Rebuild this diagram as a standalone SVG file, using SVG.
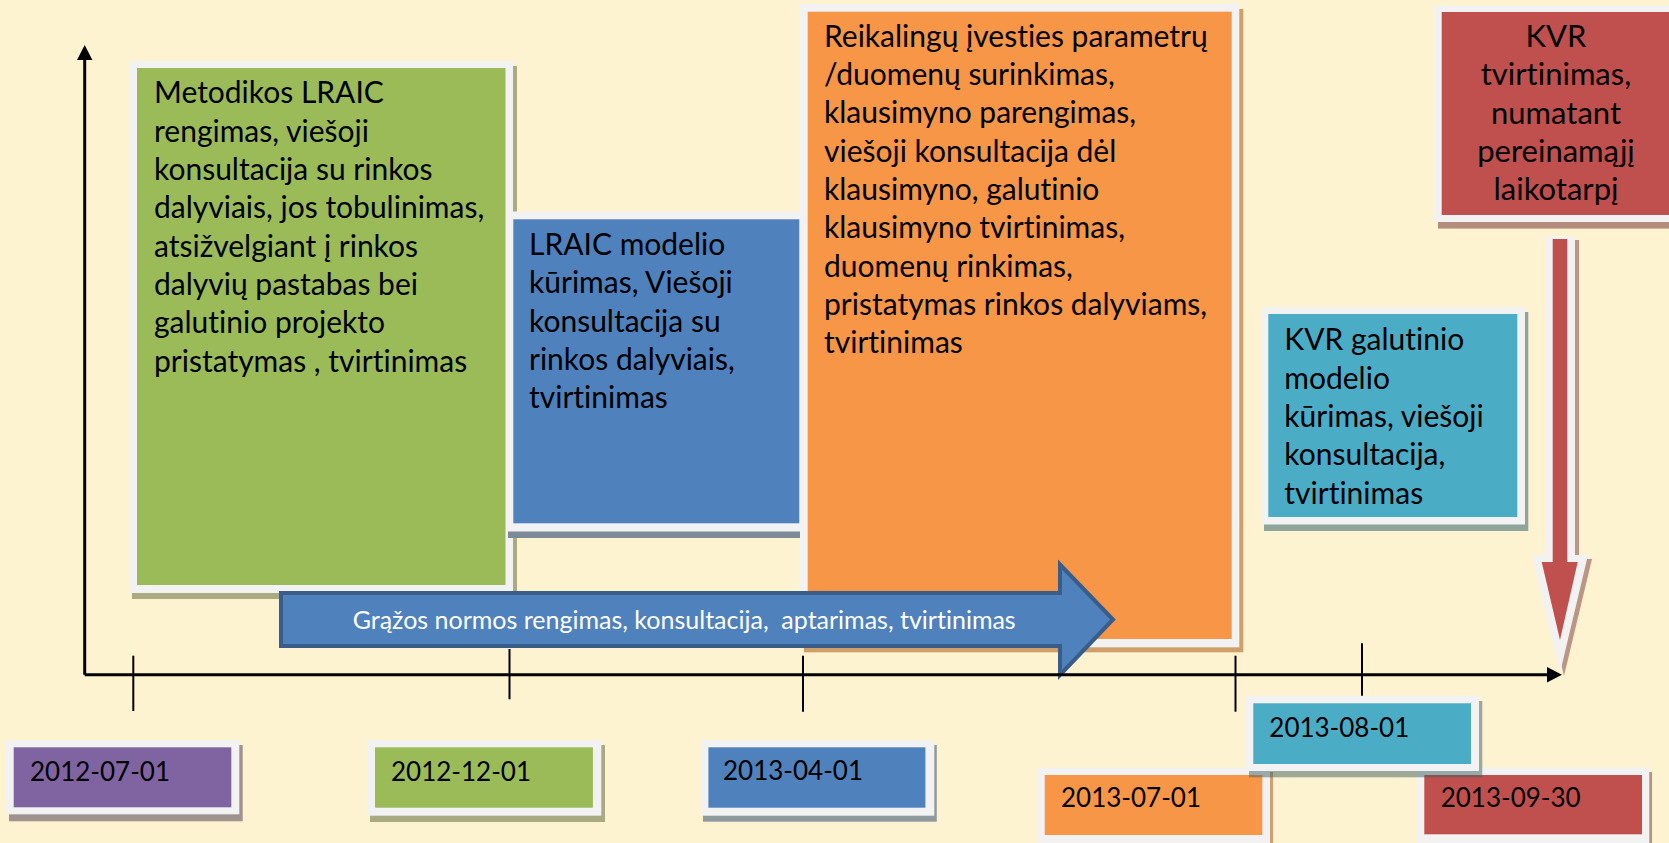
<svg xmlns="http://www.w3.org/2000/svg" width="1669" height="843" viewBox="0 0 1669 843">
<style>
text{font-variant-ligatures:none;font-feature-settings:"liga" 0}
.frame{fill:#f2f2f2}
.t{font-family:Lato,"Liberation Sans",sans-serif;font-size:30px;fill:#000}
.d{font-family:Lato,"Liberation Sans",sans-serif;font-size:26px;fill:#000}
.ax{stroke:#000;stroke-width:3;fill:none}
.tick{stroke:#000;stroke-width:2;fill:none}
</style>
<rect x="0" y="0" width="1669" height="843" fill="#fef3d1"/>

<g id="box-metodikos">
<rect x="132" y="66" width="385" height="533" fill="#aaab80"/>
<rect class="frame" x="129" y="61" width="384" height="532"/>
<rect x="137" y="68" width="368.5" height="517" fill="#9bbb59"/>
<text class="t" x="154"><tspan x="154" y="103">Metodikos LRAIC</tspan><tspan x="154" y="141.5">rengimas, viešoji</tspan><tspan x="154" y="180">konsultacija su rinkos</tspan><tspan x="154" y="218">dalyviais, jos tobulinimas,</tspan><tspan x="154" y="256.5">atsižvelgiant į rinkos</tspan><tspan x="154" y="295">dalyvių pastabas bei</tspan><tspan x="154" y="333">galutinio projekto</tspan><tspan x="154" y="371.5">pristatymas , tvirtinimas</tspan></text>
</g>

<g id="box-lraic">
<rect x="508" y="216" width="300" height="322" fill="#7d8a98"/>
<rect class="frame" x="507" y="211.5" width="298" height="320"/>
<rect x="513.3" y="219.3" width="286" height="304" fill="#4f81bd"/>
<text class="t"><tspan x="529" y="255">LRAIC modelio</tspan><tspan x="529" y="293.3">kūrimas, Viešoji</tspan><tspan x="529" y="331.6">konsultacija su</tspan><tspan x="529" y="370">rinkos dalyviais,</tspan><tspan x="529" y="408.2">tvirtinimas</tspan></text>
</g>

<g id="box-reikalingu">
<rect x="804" y="9" width="439.3" height="643.3" fill="#cf9f6a"/>
<rect class="frame" x="800" y="4" width="439.3" height="643.3"/>
<rect x="807.7" y="11.7" width="424" height="627.3" fill="#f79646"/>
<text class="t"><tspan x="824" y="46.7">Reikalingų įvesties parametrų</tspan><tspan x="824" y="85">/duomenų surinkimas,</tspan><tspan x="824" y="123.3">klausimyno parengimas,</tspan><tspan x="824" y="161.6">viešoji konsultacija dėl</tspan><tspan x="824" y="200">klausimyno, galutinio</tspan><tspan x="824" y="238.3">klausimyno tvirtinimas,</tspan><tspan x="824" y="276.6">duomenų rinkimas,</tspan><tspan x="824" y="315">pristatymas rinkos dalyviams,</tspan><tspan x="824" y="353.3">tvirtinimas</tspan></text>
</g>

<g id="box-kvr-galutinio">
<rect x="1264" y="312" width="264.3" height="219" fill="#8fa59c"/>
<rect class="frame" x="1261" y="307" width="264" height="217.5"/>
<rect x="1268.3" y="314" width="249" height="203" fill="#4bacc6"/>
<text class="t"><tspan x="1284.3" y="350.4">KVR galutinio</tspan><tspan x="1284.3" y="388.7">modelio</tspan><tspan x="1284.3" y="427">kūrimas, viešoji</tspan><tspan x="1284.3" y="465.3">konsultacija,</tspan><tspan x="1284.3" y="503.6">tvirtinimas</tspan></text>
</g>

<g id="box-kvr-tvirtinimas">
<rect x="1438" y="11" width="260" height="217.6" fill="#b48c7c"/>
<rect class="frame" x="1434.3" y="5.4" width="260" height="216.6"/>
<rect x="1441.7" y="12" width="250" height="203" fill="#c0504d"/>
<text class="t" text-anchor="middle" style="font-size:31px"><tspan x="1556" y="47">KVR</tspan><tspan x="1556" y="85.3">tvirtinimas,</tspan><tspan x="1556" y="123.6">numatant</tspan><tspan x="1556" y="161.9">pereinamąjį</tspan><tspan x="1556" y="200.2">laikotarpį</tspan></text>
</g>

<g id="red-arrow">
<polygon points="1549,240 1579,240 1579,559 1592,559 1564,676 1536,559 1549,559" fill="#b48c7c" opacity="0.9"/>
<polygon points="1545,236.6 1575,236.6 1575,555 1588,555 1560,673 1532,555 1545,555" fill="#f2f2f2"/>
<polygon points="1552.7,239 1567.3,239 1567.3,562 1577.7,562 1560,640 1541.7,562 1552.7,562" fill="#c0504d"/>
</g>

<g id="connectors">
<line class="tick" x1="133.3" y1="655.7" x2="133.3" y2="711"/>
<line class="tick" x1="509.5" y1="649" x2="509.5" y2="699.3"/>
<line class="tick" x1="803" y1="655.7" x2="803" y2="711.7"/>
<line class="tick" x1="1235.5" y1="655.7" x2="1235.5" y2="711.7"/>
<line class="tick" x1="1362" y1="643.3" x2="1362" y2="699.3"/>
</g>

<g id="arrow-grazos">
<path d="M281,593 H1060 V564.5 L1113,619.5 L1060,675 V646 H281 Z" fill="#4f81bd" stroke="#385d8a" stroke-width="4"/>
<text x="352.7" y="629" style="white-space:pre" font-family="Lato,'Liberation Sans',sans-serif" font-size="25" fill="#ffffff">Grąžos normos rengimas, konsultacija,  aptarimas, tvirtinimas</text>
</g>

<g id="axes">
<path class="ax" d="M84.7,674.7 V58"/>
<path d="M77,60 L84.7,45 L92.4,60 Z" fill="#000"/>
<path class="ax" d="M84.7,674.7 H1549"/>
<path d="M1547,667 L1562,674.7 L1547,682.5 Z" fill="#000"/>
</g>

<g id="date-2012-07-01">
<rect x="9" y="745" width="233.7" height="76.3" fill="#a0938f"/>
<rect class="frame" x="6" y="740" width="233.3" height="74.3"/>
<rect x="13.7" y="747.3" width="217.6" height="60" fill="#8064a2"/>
<text class="d" x="30" y="781">2012-07-01</text>
</g>
<g id="date-2012-12-01">
<rect x="370" y="745" width="235" height="77" fill="#a8aa82"/>
<rect class="frame" x="367.4" y="740" width="233.9" height="75.7"/>
<rect x="375" y="747.3" width="217.9" height="60.4" fill="#9bbb59"/>
<text class="d" x="391" y="780.7">2012-12-01</text>
</g>
<g id="date-2013-04-01">
<rect x="703" y="745" width="233.8" height="76.7" fill="#8e9a9e"/>
<rect class="frame" x="700.8" y="740" width="233.5" height="75.7"/>
<rect x="708.4" y="747.3" width="217" height="60.4" fill="#4f81bd"/>
<text class="d" x="723" y="780">2013-04-01</text>
</g>
<g id="date-2013-07-01">
<rect x="1040" y="772" width="233" height="80" fill="#d0a070"/>
<rect class="frame" x="1037" y="767.7" width="233" height="80"/>
<rect x="1044.7" y="775" width="217.6" height="60" fill="#f79646"/>
<text class="d" x="1061" y="806.7">2013-07-01</text>
</g>
<g id="date-2013-09-30">
<rect x="1419" y="772" width="233" height="80" fill="#b89080"/>
<rect class="frame" x="1416.7" y="767.3" width="232.6" height="80"/>
<rect x="1424.3" y="775" width="217.7" height="59.3" fill="#c0504d"/>
<text class="d" x="1440.7" y="806.7">2013-09-30</text>
</g>
<g id="date-2013-08-01">
<rect x="1249" y="701" width="233.3" height="76.3" fill="#3d5f5f" opacity="0.5"/>
<rect class="frame" x="1246" y="695.7" width="233" height="75.3"/>
<rect x="1253.3" y="703.3" width="217.7" height="60.7" fill="#4bacc6"/>
<text class="d" x="1269.3" y="736.7">2013-08-01</text>
</g>
</svg>
